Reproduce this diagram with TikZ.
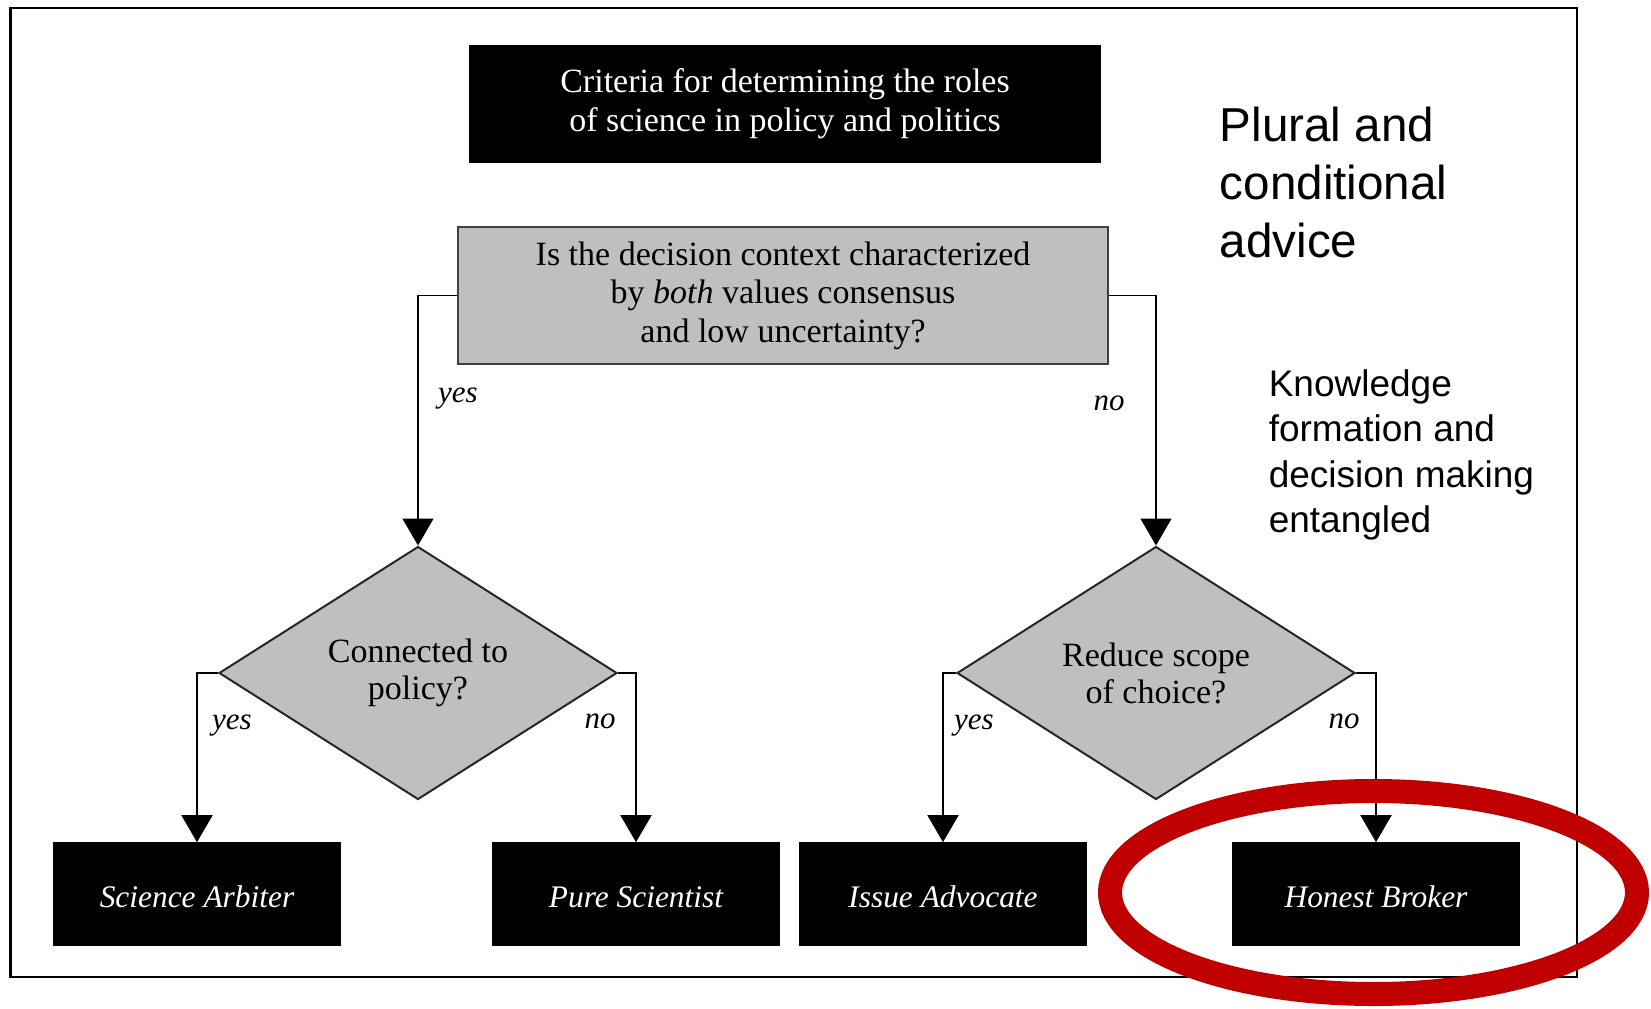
\documentclass[tikz,border=0pt]{standalone}
\usepackage{fontspec}
\setmainfont{Liberation Serif}
\newfontfamily\arialfont{Liberation Sans}
\usetikzlibrary{arrows.meta,shapes.geometric}
\definecolor{redmark}{RGB}{192,0,0}

\begin{document}
\begin{tikzpicture}[->,>={Triangle[width=15.5pt,length=13.5pt]},x=0.5pt,y=-0.5pt,line width=0.8pt]
  \tikzstyle{headbox}=[draw=black,fill=black,text=white,align=center,minimum width=315pt,minimum height=58pt,font=\fontsize{17}{19.5}\selectfont]
  \tikzstyle{askbox}=[draw=black!75,fill=black!25,line width=1pt,align=center,minimum width=325pt,minimum height=68.5pt,font=\fontsize{17}{19.2}\selectfont]
  \tikzstyle{choice}=[diamond,aspect=1.57,draw=black!85,fill=black!25,line width=1pt,inner sep=0pt,align=center,minimum width=199pt,minimum height=126.5pt,font=\fontsize{17}{18.5}\selectfont]
  \tikzstyle{role}=[draw=black,fill=black,text=white,minimum width=143pt,minimum height=51pt,text height=13.5pt,text depth=0pt,font=\fontsize{15.7}{18}\selectfont\itshape]
  \tikzstyle{answer}=[font=\fontsize{15.5}{18}\selectfont\itshape]
  \tikzstyle{note}=[align=left,anchor=west,inner sep=0pt]

  \useasboundingbox (0,0) rectangle (1651,1008);
  \draw[-,line width=1.3pt] (10.5,8) rectangle (1577,977);

  \node[headbox] (title) at (785,104) {Criteria for determining the roles\\of science in policy and politics};
  \node[askbox] (question) at (783,295.5) {Is the decision context characterized\\by \textit{both} values consensus\\and low uncertainty?};
  \node[choice] (conn)  at (418,673)  {Connected to\\policy?};
  \node[choice] (scope) at (1156,673) {Reduce scope\\of choice?};

  \node[role] (arbiter)  at (197,894)  {Science Arbiter};
  \node[role] (pure)     at (636,894)  {Pure Scientist};
  \node[role] (advocate) at (943,894)  {Issue Advocate};
  \node[role] (broker)   at (1376,894) {Honest Broker};

  \draw (question.west) -| (conn.north);
  \draw (question.east) -| (scope.north);
  \draw (conn.west) -| (arbiter.north);
  \draw (conn.east) -| (pure.north);
  \draw (scope.west) -| (advocate.north);
  \draw (scope.east) -| (broker.north);

  \node[answer] (yes1) at (458,399)  {yes};
  \node[answer] (no1)  at (1109,403) {no};
  \node[answer] (yes2) at (232,726)  {yes};
  \node[answer] (no2)  at (600,721)  {no};
  \node[answer] (yes3) at (974,726)  {yes};
  \node[answer] (no3)  at (1344,721) {no};

  \node[note,font=\arialfont\fontsize{23.8}{29}\selectfont] (plural) at (1219,182) {Plural and\\conditional\\advice};
  \node[note,font=\arialfont\fontsize{18.5}{22.6}\selectfont] (entangled) at (1268,455) {Knowledge\\formation and\\decision making\\entangled};

  \draw[-,draw=redmark,line width=12pt] (1373.5,892.5) ellipse [x radius=131.75pt,y radius=50.75pt];
\end{tikzpicture}
\end{document}
